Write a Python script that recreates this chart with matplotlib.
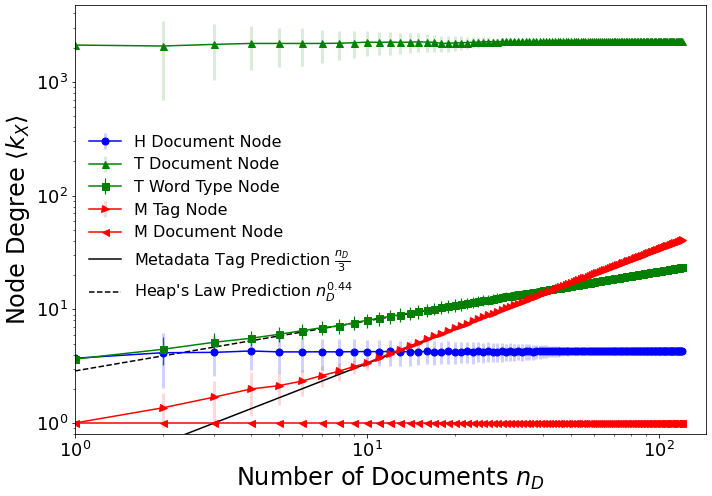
import numpy as np
import matplotlib
matplotlib.use('Agg')
import matplotlib.pyplot as plt

# number of documents in the sample, 1..120
n_docs = np.arange(1, 121)

# H document node degree (mean, std)
h_doc = [3.71, 4.15, 4.18, 4.30, 4.22, 4.22, 4.23, 4.22, 4.24, 4.25,
         4.24, 4.26, 4.23, 4.25, 4.22, 4.27, 4.24, 4.22, 4.26, 4.24,
         4.25, 4.28, 4.23, 4.26, 4.24, 4.27, 4.25, 4.23, 4.26, 4.25,
         4.27, 4.25, 4.26, 4.24, 4.27, 4.26, 4.25, 4.27, 4.26, 4.27,
         4.26, 4.27, 4.27, 4.26, 4.28, 4.27, 4.27, 4.28, 4.27, 4.28,
         4.28, 4.28, 4.27, 4.28, 4.28, 4.29, 4.28, 4.28, 4.28, 4.28,
         4.28, 4.28, 4.29, 4.28, 4.28, 4.28, 4.28, 4.28, 4.29, 4.28,
         4.28, 4.28, 4.28, 4.28, 4.28, 4.28, 4.29, 4.28, 4.28, 4.28,
         4.28, 4.28, 4.28, 4.28, 4.28, 4.28, 4.28, 4.28, 4.28, 4.28,
         4.28, 4.28, 4.28, 4.28, 4.28, 4.28, 4.28, 4.28, 4.28, 4.28,
         4.28, 4.28, 4.28, 4.28, 4.28, 4.28, 4.28, 4.28, 4.28, 4.28,
         4.28, 4.28, 4.28, 4.28, 4.28, 4.28, 4.28, 4.28, 4.28, 4.28]
h_doc_err = [0.0, 2.1, 1.6, 1.4, 1.45, 1.4, 1.3, 1.25, 1.2, 1.15,
             1.1, 1.1, 1.05, 1.05, 1.0, 1.0, 1.0, 0.95, 0.95, 0.95,
             0.9, 0.9, 0.9, 0.85, 0.85, 0.85, 0.8, 0.8, 0.8, 0.75,
             0.75, 0.75, 0.7, 0.7, 0.7, 0.65, 0.65, 0.6, 0.6, 0.55,
             0.55, 0.5, 0.5, 0.45, 0.45, 0.4, 0.4, 0.35, 0.35, 0.2,
             0.2, 0.2, 0.2, 0.2, 0.2, 0.2, 0.2, 0.2, 0.2, 0.2,
             0.2, 0.2, 0.2, 0.2, 0.2, 0.2, 0.2, 0.2, 0.2, 0.2,
             0.2, 0.2, 0.2, 0.2, 0.2, 0.2, 0.2, 0.2, 0.2, 0.2,
             0.2, 0.2, 0.2, 0.2, 0.2, 0.2, 0.2, 0.2, 0.2, 0.2,
             0.2, 0.2, 0.2, 0.2, 0.2, 0.2, 0.2, 0.2, 0.2, 0.2,
             0.2, 0.2, 0.2, 0.2, 0.2, 0.2, 0.2, 0.2, 0.2, 0.2,
             0.2, 0.2, 0.2, 0.2, 0.2, 0.2, 0.2, 0.2, 0.2, 0.2]

# T document node degree
t_doc = [2110, 2070, 2140, 2180, 2180, 2180, 2180, 2190, 2210, 2240,
         2230, 2240, 2230, 2240, 2250, 2240, 2230, 2180, 2190, 2200,
         2210, 2220, 2230, 2240, 2250, 2260, 2260, 2260, 2270, 2270,
         2270, 2270, 2270, 2270, 2270, 2270, 2270, 2270, 2270, 2270,
         2270, 2270, 2270, 2280, 2270, 2270, 2280, 2270, 2270, 2280,
         2280, 2280, 2280, 2280, 2280, 2280, 2280, 2280, 2280, 2280,
         2280, 2280, 2280, 2280, 2280, 2280, 2280, 2280, 2280, 2280,
         2280, 2280, 2280, 2280, 2280, 2280, 2280, 2280, 2280, 2280,
         2280, 2280, 2280, 2280, 2280, 2280, 2280, 2280, 2280, 2280,
         2280, 2280, 2280, 2280, 2280, 2280, 2280, 2280, 2280, 2280,
         2280, 2280, 2280, 2280, 2280, 2280, 2280, 2280, 2280, 2280,
         2280, 2280, 2280, 2280, 2280, 2280, 2280, 2280, 2280, 2280]
t_doc_err = [0, 1380, 1100, 900, 820, 800, 700, 640, 600, 550,
             520, 500, 470, 450, 420, 400, 380, 360, 340, 320,
             300, 280, 260, 240, 220, 200, 190, 180, 170, 160,
             150, 140, 130, 120, 110, 100, 100, 90, 90, 80,
             80, 80, 70, 70, 70, 60, 60, 60, 60, 50,
             50, 50, 50, 50, 50, 50, 50, 50, 50, 50,
             50, 50, 50, 50, 50, 50, 50, 50, 50, 50,
             50, 50, 50, 50, 50, 50, 50, 50, 50, 50,
             50, 50, 50, 50, 50, 50, 50, 50, 50, 50,
             50, 50, 50, 50, 50, 50, 50, 50, 50, 50,
             50, 50, 50, 50, 50, 50, 50, 50, 50, 50,
             50, 50, 50, 50, 50, 50, 50, 50, 50, 50]

# T word type node degree
t_word = [3.65, 4.45, 5.13, 5.56, 6.03, 6.48, 6.89, 7.13, 7.62, 8.00,
          8.35, 8.68, 9.00, 9.30, 9.58, 9.86, 10.12, 10.38, 10.62, 10.86,
          11.10, 11.33, 11.55, 11.77, 11.98, 12.19, 12.39, 12.59, 12.78, 12.97,
          13.15, 13.33, 13.51, 13.68, 13.85, 14.02, 14.18, 14.34, 14.50, 14.66,
          14.81, 14.96, 15.11, 15.26, 15.40, 15.54, 15.68, 15.82, 15.96, 16.09,
          16.24, 16.37, 16.51, 16.64, 16.78, 16.91, 17.04, 17.18, 17.31, 17.45,
          17.58, 17.70, 17.83, 17.95, 18.08, 18.20, 18.32, 18.44, 18.56, 18.67,
          18.79, 18.90, 19.02, 19.13, 19.24, 19.36, 19.47, 19.58, 19.69, 19.81,
          19.84, 19.95, 20.06, 20.16, 20.26, 20.37, 20.47, 20.58, 20.68, 20.79,
          20.88, 20.99, 21.08, 21.18, 21.28, 21.38, 21.48, 21.57, 21.67, 21.77,
          21.79, 21.88, 21.98, 22.07, 22.16, 22.25, 22.35, 22.44, 22.53, 22.63,
          22.71, 22.80, 22.89, 22.98, 23.06, 23.15, 23.24, 23.33, 23.41, 23.50]
t_word_err = [0.0, 1.2, 1.0, 0.85, 0.9, 0.95, 1.0, 1.05, 1.1, 1.15,
              1.2, 1.2, 1.25, 1.25, 1.3, 1.3, 1.3, 1.35, 1.35, 1.35,
              1.35, 1.35, 1.35, 1.3, 1.3, 1.3, 1.25, 1.25, 1.2, 1.2,
              1.15, 1.15, 1.1, 1.1, 1.05, 1.05, 1.0, 1.0, 0.95, 0.95,
              0.9, 0.9, 0.85, 0.85, 0.8, 0.8, 0.8, 0.75, 0.75, 0.7,
              0.7, 0.7, 0.7, 0.7, 0.7, 0.65, 0.65, 0.65, 0.65, 0.65,
              0.6, 0.6, 0.6, 0.6, 0.6, 0.6, 0.6, 0.6, 0.6, 0.6,
              0.55, 0.55, 0.55, 0.55, 0.55, 0.55, 0.55, 0.55, 0.55, 0.55,
              0.5, 0.5, 0.5, 0.5, 0.5, 0.5, 0.5, 0.5, 0.5, 0.5,
              0.5, 0.5, 0.5, 0.5, 0.5, 0.5, 0.5, 0.5, 0.5, 0.5,
              0.5, 0.5, 0.5, 0.5, 0.5, 0.5, 0.5, 0.5, 0.5, 0.5,
              0.5, 0.5, 0.5, 0.5, 0.5, 0.5, 0.5, 0.5, 0.5, 0.5]

# M tag node degree
m_tag = [1.00, 1.36, 1.69, 1.99, 2.13, 2.34, 2.61, 2.85, 3.13, 3.37,
         3.74, 4.08, 4.42, 4.76, 5.10, 5.44, 5.78, 6.12, 6.46, 6.80,
         7.14, 7.48, 7.82, 8.16, 8.50, 8.84, 9.18, 9.52, 9.86, 10.20,
         10.54, 10.88, 11.22, 11.56, 11.90, 12.24, 12.58, 12.92, 13.26, 13.60,
         13.94, 14.28, 14.62, 14.96, 15.30, 15.64, 15.98, 16.32, 16.66, 17.00,
         17.35, 17.68, 18.02, 18.35, 18.68, 19.02, 19.35, 19.68, 20.02, 20.35,
         20.68, 21.02, 21.35, 21.68, 22.02, 22.35, 22.68, 23.02, 23.35, 23.68,
         24.02, 24.35, 24.68, 25.02, 25.35, 25.68, 26.02, 26.35, 26.68, 27.02,
         27.35, 27.68, 28.02, 28.35, 28.68, 29.02, 29.35, 29.68, 30.02, 30.35,
         30.68, 31.02, 31.35, 31.68, 32.02, 32.35, 32.68, 33.02, 33.35, 33.68,
         34.02, 34.35, 34.68, 35.02, 35.35, 35.68, 36.02, 36.35, 36.68, 37.02,
         37.35, 37.68, 38.02, 38.35, 38.68, 39.02, 39.35, 39.68, 40.02, 40.35]
m_tag_err = [0.0, 0.46, 0.66, 0.84, 0.7, 0.6, 0.55, 0.5, 0.45, 0.42,
             0.4, 0.38, 0.35, 0.33, 0.3, 0.3, 0.3, 0.3, 0.3, 0.3,
             0.3, 0.3, 0.3, 0.3, 0.3, 0.3, 0.3, 0.3, 0.3, 0.3,
             0.3, 0.3, 0.3, 0.3, 0.3, 0.3, 0.3, 0.3, 0.3, 0.3,
             0.3, 0.3, 0.3, 0.3, 0.3, 0.3, 0.3, 0.3, 0.3, 0.3,
             0.3, 0.3, 0.3, 0.3, 0.3, 0.3, 0.3, 0.3, 0.3, 0.3,
             0.3, 0.3, 0.3, 0.3, 0.3, 0.3, 0.3, 0.3, 0.3, 0.3,
             0.3, 0.3, 0.3, 0.3, 0.3, 0.3, 0.3, 0.3, 0.3, 0.3,
             0.3, 0.3, 0.3, 0.3, 0.3, 0.3, 0.3, 0.3, 0.3, 0.3,
             0.3, 0.3, 0.3, 0.3, 0.3, 0.3, 0.3, 0.3, 0.3, 0.3,
             0.3, 0.3, 0.3, 0.3, 0.3, 0.3, 0.3, 0.3, 0.3, 0.3,
             0.3, 0.3, 0.3, 0.3, 0.3, 0.3, 0.3, 0.3, 0.3, 0.3]

# M document node degree (every document has exactly one edge)
m_doc = [1.0] * 120
m_doc_err = [0.0] * 120

# prediction parameters
tag_divisor = 3
heaps_coef = 2.87
heaps_exp = 0.44


fig = plt.figure(figsize=(712 / 72, 496 / 72), dpi=72)
ax = fig.add_axes([75 / 712, 1 - 434 / 496, 631 / 712, 429 / 496])

series = []
series.append(ax.errorbar(n_docs, h_doc, yerr=h_doc_err, fmt='-o', color='b', ecolor=(0, 0, 1, 0.18),
                          elinewidth=3, markersize=7, label='H Document Node'))
series.append(ax.errorbar(n_docs, t_doc, yerr=t_doc_err, fmt='-^', color='g', ecolor=(0, 0.5, 0, 0.15),
                          elinewidth=3, markersize=7, label='T Document Node'))
series.append(ax.errorbar(n_docs, t_word, yerr=t_word_err, fmt='-s', color='g', ecolor='g',
                          elinewidth=1.2, markersize=7, label='T Word Type Node'))
series.append(ax.errorbar(n_docs, m_tag, yerr=m_tag_err, fmt='->', color='r', ecolor=(1, 0, 0, 0.15),
                          elinewidth=3, markersize=7, label='M Tag Node'))
series.append(ax.errorbar(n_docs, m_doc, yerr=m_doc_err, fmt='-<', color='r', ecolor=(1, 0, 0, 0.04),
                          elinewidth=3, markersize=7, label='M Document Node'))

series += ax.plot(n_docs, n_docs / tag_divisor, 'k-', label=r'Metadata Tag Prediction $\frac{n_D}{3}$')
series += ax.plot(n_docs, heaps_coef * n_docs ** heaps_exp, 'k--', label=r"Heap's Law Prediction $n_D^{0.44}$")

ax.set_xscale('log')
ax.set_yscale('log')
ax.set_xlim(1, 145)
ax.set_ylim(0.8, 4750)
ax.tick_params(axis='both', which='major', labelsize=18)
ax.set_xlabel(r'Number of Documents $n_D$', fontsize=24)
ax.set_ylabel(r'Node Degree $\langle k_X \rangle$', fontsize=24)
ax.legend(handles=series, loc='center left', frameon=False, fontsize=16, labelspacing=0.48)

fig.savefig('out.png', dpi=72)
